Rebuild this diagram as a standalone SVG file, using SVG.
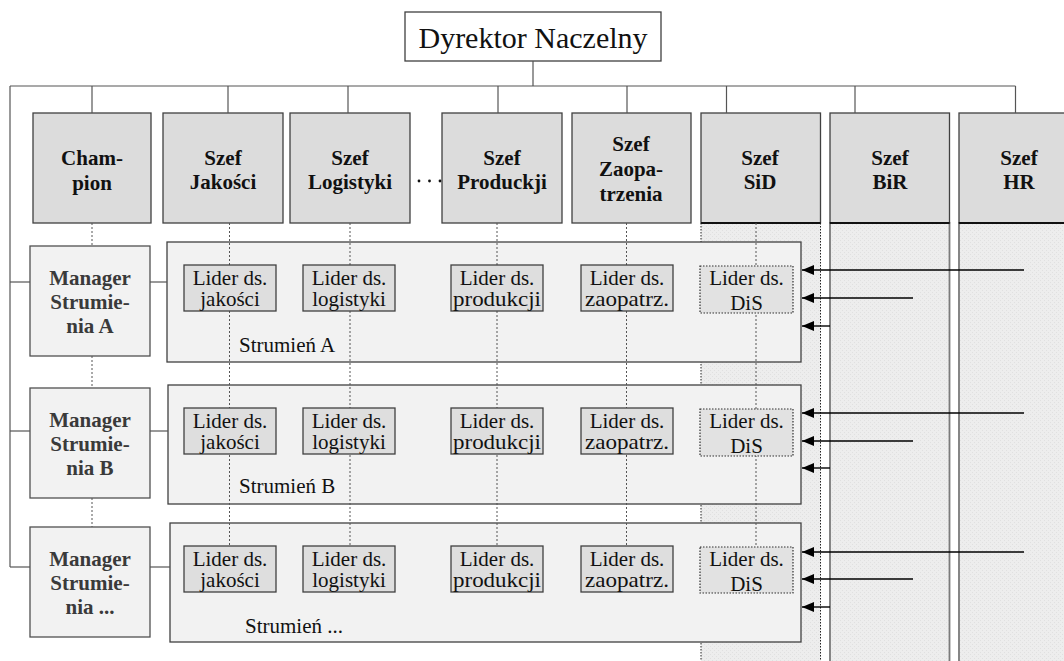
<svg xmlns="http://www.w3.org/2000/svg" width="1064" height="661" viewBox="0 0 1064 661" font-family="Liberation Serif">
<style>
text{font-family:'Liberation Serif',serif}
.hdr{fill:#dcdcdc;stroke:#404040;stroke-width:1.3}
.mgr{fill:#f2f2f2;stroke:#505050;stroke-width:1.3}
.str{fill:#f2f2f2;stroke:#404040;stroke-width:1.3}
.lid{fill:#dedede;stroke:#404040;stroke-width:1.3}
.dis{fill:#e2e2e2;stroke:#303030;stroke-width:1.2;stroke-dasharray:1.5 1.5}
</style>
<defs>
<pattern id="hatch" width="4" height="4" patternUnits="userSpaceOnUse">
<rect width="4" height="4" fill="#ededed"/>
<rect x="0" y="0" width="1" height="1" fill="#e0e0e0"/>
<rect x="2" y="2" width="1" height="1" fill="#e0e0e0"/>
</pattern>
<marker id="ah" markerWidth="12" markerHeight="10" refX="12" refY="5" orient="auto" markerUnits="userSpaceOnUse">
<path d="M0,0 L12,5 L0,10 z" fill="#000000"/>
</marker>
</defs>
<rect x="0" y="0" width="1064" height="661" fill="#ffffff"/>

<g id="columns">
<rect x="701" y="223" width="119.5" height="440" fill="url(#hatch)"/>
<line x1="701" y1="223" x2="701" y2="661" stroke="#222" stroke-width="1" stroke-dasharray="1.5 1.5"/>
<line x1="820.5" y1="223" x2="820.5" y2="661" stroke="#222" stroke-width="1" stroke-dasharray="1.5 1.5"/>
<rect x="830" y="223" width="119.5" height="445" fill="url(#hatch)" stroke="#7a7a7a" stroke-width="1.8"/>
<rect x="959" y="223" width="120" height="445" fill="url(#hatch)" stroke="#7a7a7a" stroke-width="1.8"/>
</g>

<g id="dyrektor">
<rect x="405" y="12" width="256" height="49" fill="#ffffff" stroke="#404040" stroke-width="1.3"/>
<text font-family="Liberation Serif" font-size="30" fill="#111" text-anchor="middle" x="533" y="48">Dyrektor Naczelny</text>
</g>

<g id="headers" font-family="Liberation Serif" font-weight="bold" font-size="21" text-anchor="middle" fill="#111">
<g id="champion">
<rect class="hdr" x="33" y="113" width="118" height="110"/>
<text x="92" y="165">Cham-</text>
<text x="92" y="190">pion</text>
</g>
<g id="szef-jakosci">
<rect class="hdr" x="163" y="113" width="120" height="110"/>
<text x="223" y="165">Szef</text>
<text x="223" y="189">Jakości</text>
</g>
<g id="szef-logistyki">
<rect class="hdr" x="290" y="113" width="120" height="110"/>
<text x="350" y="165">Szef</text>
<text x="350" y="189">Logistyki</text>
</g>
<g id="ellipsis">
<circle cx="419" cy="181" r="1.4"/>
<circle cx="429.5" cy="181" r="1.4"/>
<circle cx="440" cy="181" r="1.4"/>
</g>
<g id="szef-produkcji">
<rect class="hdr" x="442" y="113" width="120" height="110"/>
<text x="502" y="165">Szef</text>
<text x="502" y="189">Produckji</text>
</g>
<g id="szef-zaopatrzenia">
<rect class="hdr" x="572" y="113" width="119" height="110"/>
<text x="631" y="151">Szef</text>
<text x="631" y="176">Zaopa-</text>
<text x="631" y="201">trzenia</text>
</g>
<g id="szef-sid">
<rect class="hdr" x="701" y="113" width="119.5" height="110"/>
<line x1="701" y1="223" x2="820.5" y2="223" stroke="#111" stroke-width="2"/>
<text x="760" y="165">Szef</text>
<text x="760" y="189">SiD</text>
</g>
<g id="szef-bir">
<rect class="hdr" x="830" y="113" width="119.5" height="110"/>
<line x1="830" y1="223" x2="949.5" y2="223" stroke="#111" stroke-width="2"/>
<text x="890" y="165">Szef</text>
<text x="890" y="189">BiR</text>
</g>
<g id="szef-hr">
<rect class="hdr" x="959" y="113" width="120" height="110"/>
<line x1="959" y1="223" x2="1064" y2="223" stroke="#111" stroke-width="2"/>
<text x="1019" y="165">Szef</text>
<text x="1019" y="189">HR</text>
</g>
</g>

<g id="managers" font-family="Liberation Serif" font-weight="bold" font-size="21" text-anchor="middle" fill="#3a3a3a">
<g id="manager-a">
<rect class="mgr" x="30" y="246" width="120" height="110"/>
<text x="90" y="285">Manager</text>
<text x="90" y="309">Strumie-</text>
<text x="90" y="333">nia A</text>
</g>
<g id="manager-b">
<rect class="mgr" x="30" y="388" width="120" height="110"/>
<text x="90" y="427">Manager</text>
<text x="90" y="451">Strumie-</text>
<text x="90" y="475">nia B</text>
</g>
<g id="manager-n">
<rect class="mgr" x="30" y="527" width="120" height="110"/>
<text x="90" y="566">Manager</text>
<text x="90" y="590">Strumie-</text>
<text x="90" y="614">nia ...</text>
</g>
</g>

<g id="streams" font-family="Liberation Serif" font-size="21" fill="#111">
<g id="strumien-a">
<rect class="str" x="167" y="242" width="634" height="120"/>
<text x="239" y="352">Strumień A</text>
</g>
<g id="strumien-b">
<rect class="str" x="168" y="385" width="633" height="119"/>
<text x="239" y="493">Strumień B</text>
</g>
<g id="strumien-n">
<rect class="str" x="170" y="523" width="631" height="119"/>
<text x="245" y="633">Strumień ...</text>
</g>
</g>

<g id="connectors" fill="none">
<g stroke="#555555" stroke-width="1.2">
<line x1="533" y1="61" x2="533" y2="86"/>
<line x1="10" y1="86" x2="1015.5" y2="86"/>
<line x1="92" y1="86" x2="92" y2="113"/>
<line x1="228" y1="86" x2="228" y2="113"/>
<line x1="348" y1="86" x2="348" y2="113"/>
<line x1="498" y1="86" x2="498" y2="113"/>
<line x1="627" y1="86" x2="627" y2="113"/>
<line x1="726.5" y1="86" x2="726.5" y2="113"/>
<line x1="855" y1="86" x2="855" y2="113"/>
<line x1="1015.5" y1="86" x2="1015.5" y2="113"/>
<line x1="10" y1="86" x2="10" y2="567"/>
<line x1="10" y1="282" x2="30" y2="282"/>
<line x1="150" y1="282" x2="167" y2="282"/>
<line x1="10" y1="431" x2="30" y2="431"/>
<line x1="150" y1="431" x2="168" y2="431"/>
<line x1="10" y1="567" x2="30" y2="567"/>
<line x1="150" y1="567" x2="170" y2="567"/>
</g>
<g stroke="#555555" stroke-width="1" stroke-dasharray="2 2">
<line x1="92" y1="223" x2="92" y2="246"/>
<line x1="92" y1="356" x2="92" y2="388"/>
<line x1="92" y1="498" x2="92" y2="527"/>
<line x1="229.5" y1="223" x2="229.5" y2="546"/>
<line x1="350" y1="223" x2="350" y2="546"/>
<line x1="497" y1="223" x2="497" y2="546"/>
<line x1="626.5" y1="223" x2="626.5" y2="546"/>
<line x1="756" y1="223" x2="756" y2="547"/>
</g>
<g stroke="#000000" stroke-width="1.4" marker-end="url(#ah)">
<line x1="1024" y1="270" x2="802" y2="270"/>
<line x1="913" y1="298" x2="802" y2="298"/>
<line x1="830" y1="326" x2="802" y2="326"/>
<line x1="1024" y1="413" x2="802" y2="413"/>
<line x1="913" y1="441" x2="802" y2="441"/>
<line x1="830" y1="468" x2="802" y2="468"/>
<line x1="1024" y1="552" x2="802" y2="552"/>
<line x1="913" y1="579" x2="802" y2="579"/>
<line x1="830" y1="607" x2="802" y2="607"/>
</g>
</g>

<g id="liders" font-family="Liberation Serif" font-size="21" text-anchor="middle" fill="#111">
<g id="lider-a-jakosci"><rect class="lid" x="184" y="265" width="92" height="46"/><text x="230" y="285">Lider ds.</text><text x="230" y="306">jakości</text></g>
<g id="lider-a-logistyki"><rect class="lid" x="303" y="265" width="92" height="46"/><text x="349" y="285">Lider ds.</text><text x="349" y="306">logistyki</text></g>
<g id="lider-a-produkcji"><rect class="lid" x="451" y="265" width="92" height="46"/><text x="497" y="285">Lider ds.</text><text x="497" y="306" textLength="88" lengthAdjust="spacingAndGlyphs">produkcji</text></g>
<g id="lider-a-zaopatrz"><rect class="lid" x="581" y="265" width="92" height="46"/><text x="627" y="285">Lider ds.</text><text x="627" y="306" textLength="84" lengthAdjust="spacingAndGlyphs">zaopatrz.</text></g>
<g id="lider-a-dis"><rect class="dis" x="700" y="266" width="93" height="47"/><text x="746.5" y="285">Lider ds.</text><text x="746.5" y="310">DiS</text></g>

<g id="lider-b-jakosci"><rect class="lid" x="184" y="408" width="92" height="46"/><text x="230" y="428">Lider ds.</text><text x="230" y="449">jakości</text></g>
<g id="lider-b-logistyki"><rect class="lid" x="303" y="408" width="92" height="46"/><text x="349" y="428">Lider ds.</text><text x="349" y="449">logistyki</text></g>
<g id="lider-b-produkcji"><rect class="lid" x="451" y="408" width="92" height="46"/><text x="497" y="428">Lider ds.</text><text x="497" y="449" textLength="88" lengthAdjust="spacingAndGlyphs">produkcji</text></g>
<g id="lider-b-zaopatrz"><rect class="lid" x="581" y="408" width="92" height="46"/><text x="627" y="428">Lider ds.</text><text x="627" y="449" textLength="84" lengthAdjust="spacingAndGlyphs">zaopatrz.</text></g>
<g id="lider-b-dis"><rect class="dis" x="700" y="409" width="93" height="47"/><text x="746.5" y="428">Lider ds.</text><text x="746.5" y="453">DiS</text></g>

<g id="lider-n-jakosci"><rect class="lid" x="184" y="546" width="92" height="46"/><text x="230" y="566">Lider ds.</text><text x="230" y="587">jakości</text></g>
<g id="lider-n-logistyki"><rect class="lid" x="303" y="546" width="92" height="46"/><text x="349" y="566">Lider ds.</text><text x="349" y="587">logistyki</text></g>
<g id="lider-n-produkcji"><rect class="lid" x="451" y="546" width="92" height="46"/><text x="497" y="566">Lider ds.</text><text x="497" y="587" textLength="88" lengthAdjust="spacingAndGlyphs">produkcji</text></g>
<g id="lider-n-zaopatrz"><rect class="lid" x="581" y="546" width="92" height="46"/><text x="627" y="566">Lider ds.</text><text x="627" y="587" textLength="84" lengthAdjust="spacingAndGlyphs">zaopatrz.</text></g>
<g id="lider-n-dis"><rect class="dis" x="700" y="547" width="93" height="46"/><text x="746.5" y="566">Lider ds.</text><text x="746.5" y="591">DiS</text></g>
</g>
</svg>
